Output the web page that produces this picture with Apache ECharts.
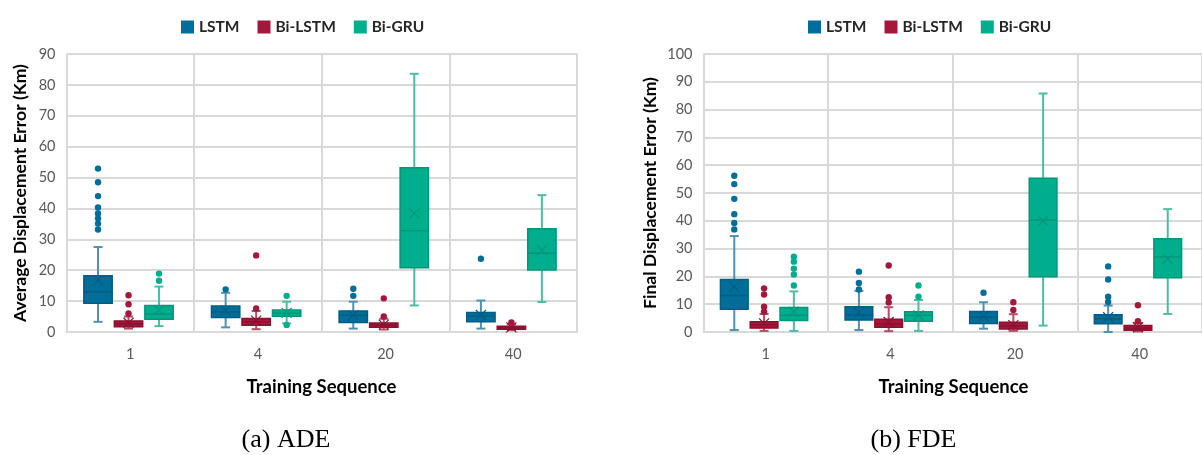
<!DOCTYPE html>
<html>
<head>
<meta charset="utf-8">
<script src="https://cdn.jsdelivr.net/npm/echarts@6/dist/echarts.min.js"></script>
<style>html,body{margin:0;padding:0;background:#fff;}#c{width:1202px;height:455px;}</style>
</head>
<body>
<div id="c"></div>
<script>
// ---- data ----
var CATEGORIES = ['1', '4', '20', '40'];
var MODELS = ['LSTM', 'Bi-LSTM', 'Bi-GRU'];
var ADE_TICKS = [0, 90, 10];
var FDE_TICKS = [0, 100, 10];
// rows: [min, q1, median, q3, max, mean]
var ADE_LSTM   = [[3.3, 9.3, 13.0, 18.2, 27.5, 16.8], [1.5, 4.7, 6.5, 8.4, 12.7, 7.0], [1.1, 3.1, 5.4, 6.8, 9.8, 5.4], [1.1, 3.3, 5.2, 6.3, 10.2, 5.5]];
var ADE_BILSTM = [[1.1, 1.7, 2.6, 3.6, 5.0, 3.0], [0.9, 2.2, 3.3, 4.4, 6.8, 3.7], [0.8, 1.5, 2.3, 2.9, 4.3, 2.4], [0.6, 0.9, 1.4, 1.9, 2.5, 1.5]];
var ADE_BIGRU  = [[1.9, 4.1, 5.8, 8.6, 14.7, 7.1], [2.8, 5.1, 6.1, 7.1, 9.8, 6.2], [8.6, 20.8, 32.8, 53.2, 83.6, 38.4], [9.7, 20.1, 25.5, 33.4, 44.3, 26.5]];
var ADE_LSTM_OUT   = [[52.9, 48.5, 44.0, 40.3, 38.4, 36.8, 35.1, 33.2], [13.8], [14.0, 11.7], [23.7]];
var ADE_BILSTM_OUT = [[11.9, 9.0, 6.0], [24.8, 7.6], [10.9, 5.0], [3.1]];
var ADE_BIGRU_OUT  = [[18.9, 16.6], [11.7, 2.3], [], []];

var FDE_LSTM   = [[0.7, 8.2, 13.1, 18.9, 34.5, 16.3], [0.7, 4.3, 6.1, 9.1, 14.8, 7.0], [1.2, 3.1, 5.4, 7.4, 10.7, 5.6], [0.0, 3.0, 4.8, 6.2, 9.5, 5.3]];
var FDE_BILSTM = [[0.4, 1.4, 2.6, 3.7, 6.5, 3.1], [0.3, 1.7, 2.9, 4.6, 8.9, 3.6], [0.4, 1.1, 2.2, 3.5, 6.4, 2.5], [0.2, 0.6, 1.4, 2.3, 3.2, 1.7]];
var FDE_BIGRU  = [[0.4, 4.1, 6.0, 8.8, 14.6, 7.3], [0.4, 3.9, 6.0, 7.3, 11.5, 6.0], [2.3, 19.9, 40.3, 55.3, 85.8, 40.0], [6.5, 19.5, 27.0, 33.5, 44.2, 26.3]];
var FDE_LSTM_OUT   = [[56.2, 53.2, 47.9, 42.4, 39.2, 36.9], [21.7, 17.6, 15.3], [14.1], [23.6, 18.9, 12.7, 10.8]];
var FDE_BILSTM_OUT = [[15.7, 13.5, 9.1, 7.3], [23.9, 12.5, 10.6], [10.7, 7.9], [9.6, 3.9]];
var FDE_BIGRU_OUT  = [[27.1, 25.3, 22.8, 20.7, 16.7], [16.7, 12.7], [], []];

var X_TITLE = 'Training Sequence';
var Y_TITLES = ['Average Displacement Error (Km)', 'Final Displacement Error (Km)'];
var CAPTIONS = ['(a) ADE', '(b) FDE'];

// ---- styles ----
var FILL    = ['#006e99', '#a3173a', '#00ae8d'];
var BORDER  = ['#005d83', '#8c1131', '#00967a'];
var WHISKER = ['#4f91ae', '#b34e66', '#4fbba4'];
var FONT = 'Lato, "Open Sans", sans-serif';
var SHIFT = -0.014, SPACING = 0.239, BOXW = 0.222;

function boxRender(slot) {
  return function (params, api) {
    var cat = api.value(0);
    var band = api.size([1, 0])[0];
    var cx = api.coord([cat, 0])[0] + band * (SHIFT + (slot - 1) * SPACING);
    var w = band * BOXW;
    function Y(i) { return api.coord([cat, api.value(i)])[1]; }
    var yMin = Y(1), yQ1 = Y(2), yMed = Y(3), yQ3 = Y(4), yMax = Y(5), yMean = Y(6);
    var cap = 4.5, xs = 5;
    var wl = {stroke: WHISKER[slot], lineWidth: 2};
    var dl = {stroke: BORDER[slot], lineWidth: 1.2};
    return {type: 'group', children: [
      {type: 'line', shape: {x1: cx, y1: yMax, x2: cx, y2: yQ3}, style: wl},
      {type: 'line', shape: {x1: cx, y1: yQ1, x2: cx, y2: yMin}, style: wl},
      {type: 'line', shape: {x1: cx - cap, y1: yMax, x2: cx + cap, y2: yMax}, style: wl},
      {type: 'line', shape: {x1: cx - cap, y1: yMin, x2: cx + cap, y2: yMin}, style: wl},
      {type: 'rect', shape: {x: cx - w / 2, y: yQ3, width: w, height: Math.max(yQ1 - yQ3, 1)},
        style: {fill: FILL[slot], stroke: BORDER[slot], lineWidth: 1.5}},
      {type: 'line', shape: {x1: cx - w / 2, y1: yMed, x2: cx + w / 2, y2: yMed}, style: {stroke: BORDER[slot], lineWidth: 1.5}},
      {type: 'line', shape: {x1: cx - xs, y1: yMean - xs, x2: cx + xs, y2: yMean + xs}, style: dl},
      {type: 'line', shape: {x1: cx - xs, y1: yMean + xs, x2: cx + xs, y2: yMean - xs}, style: dl}
    ]};
  };
}
function outRender(slot) {
  return function (params, api) {
    var cat = api.value(0);
    var band = api.size([1, 0])[0];
    var cx = api.coord([cat, 0])[0] + band * (SHIFT + (slot - 1) * SPACING);
    var y = api.coord([cat, api.value(1)])[1];
    return {type: 'circle', shape: {cx: cx, cy: y, r: 3.2}, style: {fill: FILL[slot]}};
  };
}

var seriesList = [];
function addChart(g, boxes, outs) {
  for (var m = 0; m < 3; m++) {
    var bd = boxes[m].map(function (r, i) { return [i].concat(r); });
    var od = [];
    outs[m].forEach(function (list, i) { list.forEach(function (v) { od.push([i, v]); }); });
    seriesList.push({
      type: 'custom', name: MODELS[m], xAxisIndex: g, yAxisIndex: g,
      itemStyle: {color: FILL[m]}, renderItem: boxRender(m), data: bd,
      encode: {x: 0, y: [1, 2, 3, 4, 5, 6]}, z: 3, silent: true
    });
    seriesList.push({
      type: 'custom', name: MODELS[m], xAxisIndex: g, yAxisIndex: g,
      itemStyle: {color: FILL[m]}, renderItem: outRender(m), data: od,
      encode: {x: 0, y: 1}, z: 4, silent: true
    });
  }
}
addChart(0, [ADE_LSTM, ADE_BILSTM, ADE_BIGRU], [ADE_LSTM_OUT, ADE_BILSTM_OUT, ADE_BIGRU_OUT]);
addChart(1, [FDE_LSTM, FDE_BILSTM, FDE_BIGRU], [FDE_LSTM_OUT, FDE_BILSTM_OUT, FDE_BIGRU_OUT]);

function xAxis(g) {
  return {
    type: 'category', gridIndex: g, data: CATEGORIES, boundaryGap: true,
    axisLine: {show: true, lineStyle: {color: '#d9d9d9', width: 2}},
    axisTick: {show: false},
    axisLabel: {color: '#595959', fontSize: 14.5, fontFamily: FONT, margin: 15},
    splitLine: {show: true, lineStyle: {color: '#d9d9d9', width: 2}}
  };
}
function yAxis(g, ticks, name, gap) {
  return {
    type: 'value', gridIndex: g, min: ticks[0], max: ticks[1], interval: ticks[2],
    axisLine: {show: false}, axisTick: {show: false},
    axisLabel: {color: '#595959', fontSize: 14.5, fontFamily: FONT, margin: 11},
    splitLine: {show: true, lineStyle: {color: '#d9d9d9', width: 2}},
    name: name, nameLocation: 'middle', nameGap: gap, nameRotate: 90,
    nameTextStyle: {color: '#000', fontSize: 17.5, fontWeight: 'bold', fontFamily: FONT}
  };
}
function legend(left) {
  return {
    data: MODELS, left: left, top: 14, icon: 'rect', itemWidth: 13, itemHeight: 13, itemGap: 18,
    selectedMode: false,
    textStyle: {color: '#262626', fontSize: 15.5, fontWeight: 'bold', fontFamily: FONT}
  };
}
function label(x, y, text, font) {
  return {type: 'text', x: x, y: y, silent: true,
    style: {text: text, textAlign: 'center', textVerticalAlign: 'middle', font: font, fill: '#000'}};
}

var chart = echarts.init(document.getElementById('c'), null, {renderer: 'canvas'});
chart.setOption({
  animation: false,
  backgroundColor: '#fff',
  grid: [
    {left: 66.5, top: 54, width: 510.5, height: 278},
    {left: 703.5, top: 54, width: 500, height: 278}
  ],
  xAxis: [xAxis(0), xAxis(1)],
  yAxis: [yAxis(0, ADE_TICKS, Y_TITLES[0], 37),
          yAxis(1, FDE_TICKS, Y_TITLES[1], 44)],
  legend: [legend(176), legend(803)],
  graphic: [
    label(321.5, 387, X_TITLE, 'bold 18.5px Lato, "Open Sans", sans-serif'),
    label(953.5, 387, X_TITLE, 'bold 18.5px Lato, "Open Sans", sans-serif'),
    label(286, 440, CAPTIONS[0], '26px "Liberation Serif", serif'),
    label(913.5, 440, CAPTIONS[1], '26px "Liberation Serif", serif')
  ],
  series: seriesList
});
</script>
</body>
</html>
